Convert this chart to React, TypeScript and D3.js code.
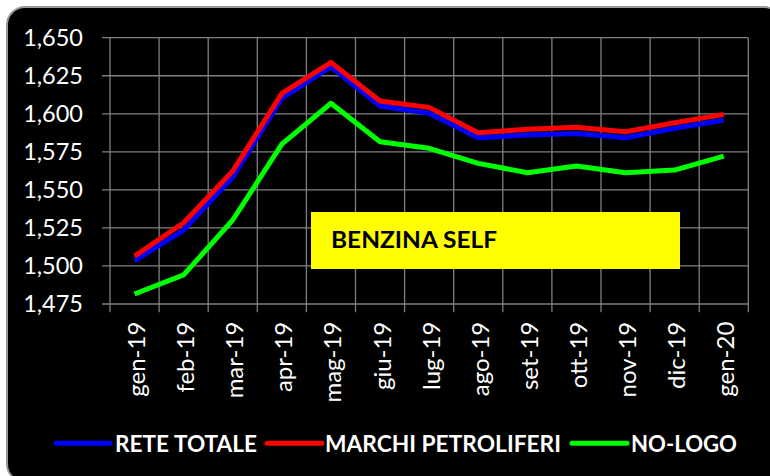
import React from "react";
import * as d3 from "d3";

const categories = ["gen-19","feb-19","mar-19","apr-19","mag-19","giu-19","lug-19","ago-19","set-19","ott-19","nov-19","dic-19","gen-20"];
const reteTotale = [1.5034,1.5236,1.5584,1.6101,1.6309,1.6051,1.6003,1.5843,1.5860,1.5871,1.5843,1.5904,1.5959];
const marchiPetroliferi = [1.5065,1.5284,1.5624,1.6134,1.6338,1.6084,1.6042,1.5876,1.5898,1.5911,1.5882,1.5941,1.5996];
const noLogo = [1.4816,1.4941,1.5302,1.5801,1.6069,1.5816,1.5773,1.5674,1.5613,1.5657,1.5613,1.5630,1.5722];
const yTicks = [1.475,1.5,1.525,1.55,1.575,1.6,1.625,1.65];
const seriesNames = ["RETE TOTALE","MARCHI PETROLIFERI","NO-LOGO"];
const seriesColors = ["#0000ff","#ff0000","#00ff00"];
const boxLabel = "BENZINA SELF";

const W = 770, H = 476;
const FONT = "Lato, 'Open Sans', sans-serif";

export default function App() {
  const x = d3.scaleBand<string>().domain(categories).range([110, 748.3]).paddingInner(0).paddingOuter(0);
  const y = d3.scaleLinear().domain([1.475, 1.65]).range([304, 37.7]);
  const cx = (c: string) => (x(c) as number) + x.bandwidth() / 2;
  const fmt = (v: number) => d3.format(".3f")(v).replace(".", ",");
  const line = d3.line<number>().x((_, i) => cx(categories[i])).y((v) => y(v));
  const series = [reteTotale, marchiPetroliferi, noLogo];
  const boundaries = categories.map((c) => x(c) as number).concat([748.3]);
  const legendPos = [
    { x1: 56, x2: 110, tx: 115, w: 142 },
    { x1: 267, x2: 322, tx: 325, w: 236 },
    { x1: 572, x2: 627, tx: 631, w: 106 },
  ];
  return (
    <svg width={W} height={H} style={{ position: "absolute", left: 0, top: 0, background: "#fff" }}>
      <rect x={7} y={7} width={775} height={475} rx={18} fill="#000" stroke="#9a9a9a" strokeWidth={2} />
      <g stroke="#808080" strokeWidth={1.3}>
        {yTicks.map((t) => (
          <line key={"h" + t} x1={102} x2={748.3} y1={y(t)} y2={y(t)} />
        ))}
        {boundaries.map((b, i) => (
          <line key={"v" + i} x1={b} x2={b} y1={y(1.65)} y2={312.3} />
        ))}
      </g>
      <g fill="#fff" fontFamily={FONT}>
        {yTicks.map((t) => (
          <text key={"yl" + t} x={83} y={y(t) + 7.8} textAnchor="end" fontSize={23.5}>{fmt(t)}</text>
        ))}
        {categories.map((c) => (
          <text key={"xl" + c} transform={`translate(${cx(c) + 10.5},321.7) rotate(-90)`} textAnchor="end" fontSize={24}>{c}</text>
        ))}
      </g>
      <rect x={311} y={212} width={369} height={57} fill="#ffff00" />
      <text x={331} y={248.3} fontFamily={FONT} fontWeight="bold" fontSize={23.5} fill="#000" textLength={166} lengthAdjust="spacingAndGlyphs">{boxLabel}</text>
      {series.map((s, i) => (
        <path key={"s" + i} d={line(s) || ""} fill="none" stroke={seriesColors[i]} strokeWidth={5} strokeLinejoin="round" strokeLinecap="butt" />
      ))}
      {seriesNames.map((n, i) => (
        <g key={"lg" + i}>
          <line x1={legendPos[i].x1} x2={legendPos[i].x2} y1={443.3} y2={443.3} stroke={seriesColors[i]} strokeWidth={5} strokeLinecap="round" />
          <text x={legendPos[i].tx} y={451.7} fill="#fff" fontFamily={FONT} fontWeight="bold" fontSize={23} textLength={legendPos[i].w} lengthAdjust="spacingAndGlyphs">{n}</text>
        </g>
      ))}
    </svg>
  );
}
